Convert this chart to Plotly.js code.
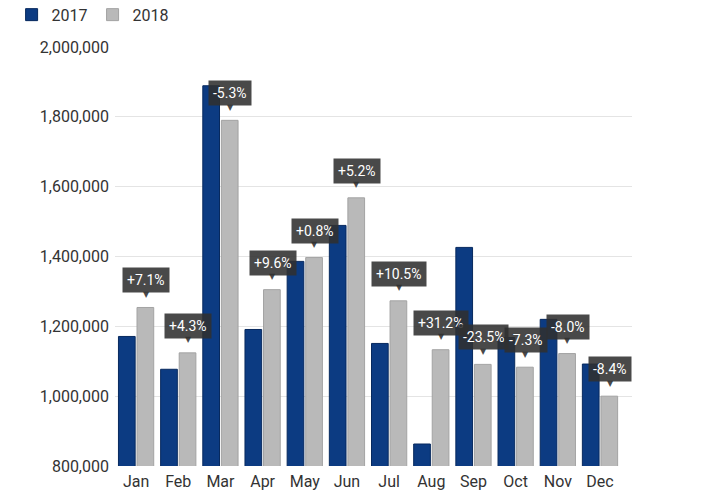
<!DOCTYPE html>
<html>
<head>
<meta charset="utf-8">
<script src="https://cdn.plot.ly/plotly-3.0.1.min.js"></script>
<style>
  html, body { margin: 0; padding: 0; background: #fff; }
  #chart { width: 713px; height: 499px; }
</style>
</head>
<body>
<div id="chart"></div>
<script>
// monthly values
const months = ["Jan", "Feb", "Mar", "Apr", "May", "Jun", "Jul", "Aug", "Sep", "Oct", "Nov", "Dec"];
const sales2017 = [1171000, 1077000, 1889000, 1191000, 1386000, 1489000, 1151000, 863000, 1426000, 1168000, 1220000, 1092000];
const sales2018 = [1254000, 1124000, 1790000, 1305000, 1397000, 1568000, 1273000, 1133000, 1091000, 1083000, 1122000, 1000000];
const changes = ["+7.1%", "+4.3%", "-5.3%", "+9.6%", "+0.8%", "+5.2%", "+10.5%", "+31.2%", "-23.5%", "-7.3%", "-8.0%", "-8.4%"];

const font = "Roboto, 'Noto Sans', sans-serif";

const traces = [
    {
        type: "bar",
        name: "2017",
        x: months,
        y: sales2017,
        marker: { color: "#0c3b82", line: { color: "#07295e", width: 1 } },
        hoverinfo: "y",
    },
    {
        type: "bar",
        name: "2018",
        x: months,
        y: sales2018,
        marker: { color: "#b9b9b9", line: { color: "#a3a3a3", width: 1 } },
        hoverinfo: "y",
    },
];

// change labels: box + little pointer, sitting above the 2018 bar
const annotations = [];
months.forEach((m, i) => {
    annotations.push({
        x: m, y: sales2018[i], xref: "x", yref: "y",
        xshift: 10, yshift: 27, yanchor: "middle",
        text: changes[i], showarrow: false,
        font: { family: font, size: 14, color: "#ffffff" },
        bgcolor: "rgba(48,48,48,0.88)",
        borderpad: 4,
    });
    annotations.push({
        x: m, y: sales2018[i], xref: "x", yref: "y",
        xshift: 10, yshift: 13, yanchor: "middle",
        text: "▼", showarrow: false,
        font: { family: "DejaVu Sans", size: 8, color: "rgba(48,48,48,0.88)" },
    });
});

const layout = {
    width: 713,
    height: 499,
    margin: { l: 115, r: 81, t: 47, b: 33, autoexpand: false },
    paper_bgcolor: "#ffffff",
    plot_bgcolor: "#ffffff",
    font: { family: font, size: 16, color: "#333333" },
    barmode: "group",
    bargap: 0.12,
    bargroupgap: 0.1,
    showlegend: true,
    legend: {
        orientation: "h",
        x: -0.2, xanchor: "left",
        y: 1.077, yanchor: "middle",
        font: { family: font, size: 16, color: "#333333" },
        itemwidth: 30,
    },
    xaxis: {
        type: "category",
        showgrid: false,
        showline: false,
        ticks: "",
        ticklabelstandoff: 4,
        tickfont: { family: font, size: 16, color: "#333333" },
    },
    yaxis: {
        range: [800000, 2000000],
        dtick: 200000,
        tickformat: ",d",
        showgrid: true,
        gridcolor: "#e4e4e4",
        zeroline: false,
        ticks: "",
        ticklen: 0,
        ticklabelstandoff: 5,
        tickfont: { family: font, size: 16, color: "#333333" },
    },
    annotations: annotations,
};

Plotly.newPlot("chart", traces, layout, { displayModeBar: false, staticPlot: true });
</script>
</body>
</html>
